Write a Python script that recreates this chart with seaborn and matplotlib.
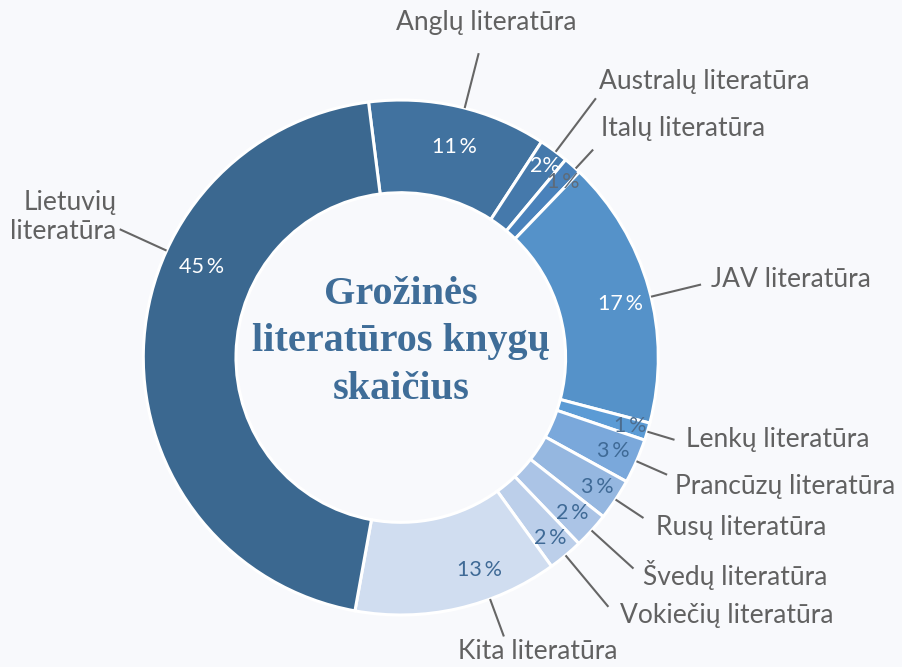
import numpy as np
import matplotlib
matplotlib.use("Agg")
import matplotlib.pyplot as plt
import seaborn as sns

# slices in clockwise order starting just left of 12 o'clock
categories = ["Anglų literatūra", "Australų literatūra", "Italų literatūra",
              "JAV literatūra", "Lenkų literatūra", "Prancūzų literatūra",
              "Rusų literatūra", "Švedų literatūra", "Vokiečių literatūra",
              "Kita literatūra", "Lietuvių\nliteratūra"]
shares = [11.2, 1.86, 1.14, 16.9, 1.1, 2.8, 2.6, 2.25, 2.2, 12.8, 45.15]
pct_labels = ["11\u2009%", "2%", "1\u2009%", "17\u2009%", "1\u2009%", "3\u2009%",
              "3\u2009%", "2\u2009%", "2\u2009%", "13\u2009%", "45\u2009%"]
title = "Grožinės\nliteratūros knygų\nskaičius"

# styling
colors = ["#41729f", "#4579ab", "#4a82bb", "#5592c9", "#5b9bd5", "#7aa8db",
          "#95b7e0", "#abc4e6", "#bccfea", "#d0ddf0", "#3b6890"]
pct_colors = ["white", "white", "#5e6b79", "white", "#4c6d8f", "#3f6a96",
              "#3f6a96", "#3f6a96", "#3f6a96", "#3f6a96", "white"]
bg = "#f8f9fc"

sns.set_theme(style="white")
plt.rcParams["font.family"] = ["Lato", "DejaVu Sans"]

W, H = 903, 667
cx, cy, R = 400.8, 357.5, 257.5   # pixel centre / radius of the ring

fig = plt.figure(figsize=(W / 100, H / 100), dpi=100)
fig.patch.set_facecolor(bg)
ax = fig.add_axes([0, 0, 1, 1])
ax.set_facecolor(bg)

wedges, _ = ax.pie(shares, startangle=97.2, counterclock=False, radius=1,
                   colors=colors,
                   wedgeprops=dict(width=0.36, edgecolor="white", linewidth=2.2))

ax.set_xlim(-cx / R, (W - cx) / R)
ax.set_ylim(-(H - cy) / R, cy / R)
ax.set_aspect("equal")
ax.axis("off")

# label layout (angle tweak in degrees, pct radius, connector length, text offset px, ha)
angle_shift = [1.4, 0.5, 0.9, 2.0, 0, 0, 0, 0, 0, -7.5, 23.0]
pct_r = [0.845, 0.93, 0.93, 0.88, 0.93, 0.9, 0.915, 0.9, 0.91, 0.88, 0.85]
conn_r = [1.22, 1.26, 1.10, 1.20, 1.11, 1.13, 1.13, 1.22, 1.26, 1.155, 1.2]
txt_off = [(8, -31), (3, -17), (8, -21), (10, -5), (11, 0), (8, 12),
           (13, 9), (10, 6), (12, 9), (34, 15), (-3, -12)]
txt_ha = ["center", "left", "left", "left", "left", "left", "left", "left",
          "left", "center", "right"]

for i, w in enumerate(wedges):
    mid = np.deg2rad((w.theta1 + w.theta2) / 2 - angle_shift[i])
    ux, uy = np.cos(mid), np.sin(mid)
    ax.text(ux * pct_r[i], uy * pct_r[i], pct_labels[i], ha="center", va="center",
            fontsize=15.5, color=pct_colors[i])
    ax.plot([ux * 1.0, ux * conn_r[i]], [uy * 1.0, uy * conn_r[i]],
            color="#666666", lw=1.5, solid_capstyle="butt")
    dx, dy = txt_off[i]
    ax.text(ux * conn_r[i] + dx / R, uy * conn_r[i] - dy / R, categories[i],
            ha=txt_ha[i], va="center", multialignment=txt_ha[i],
            fontsize=19, color="#616161", linespacing=1.2)

ax.text(0, (cy - 342) / R, title, ha="center", va="center", fontsize=29,
        family=["Liberation Serif", "DejaVu Serif"], fontweight="bold",
        color="#3f6d98", linespacing=1.36)

fig.savefig("out.png", dpi=100, facecolor=bg)
